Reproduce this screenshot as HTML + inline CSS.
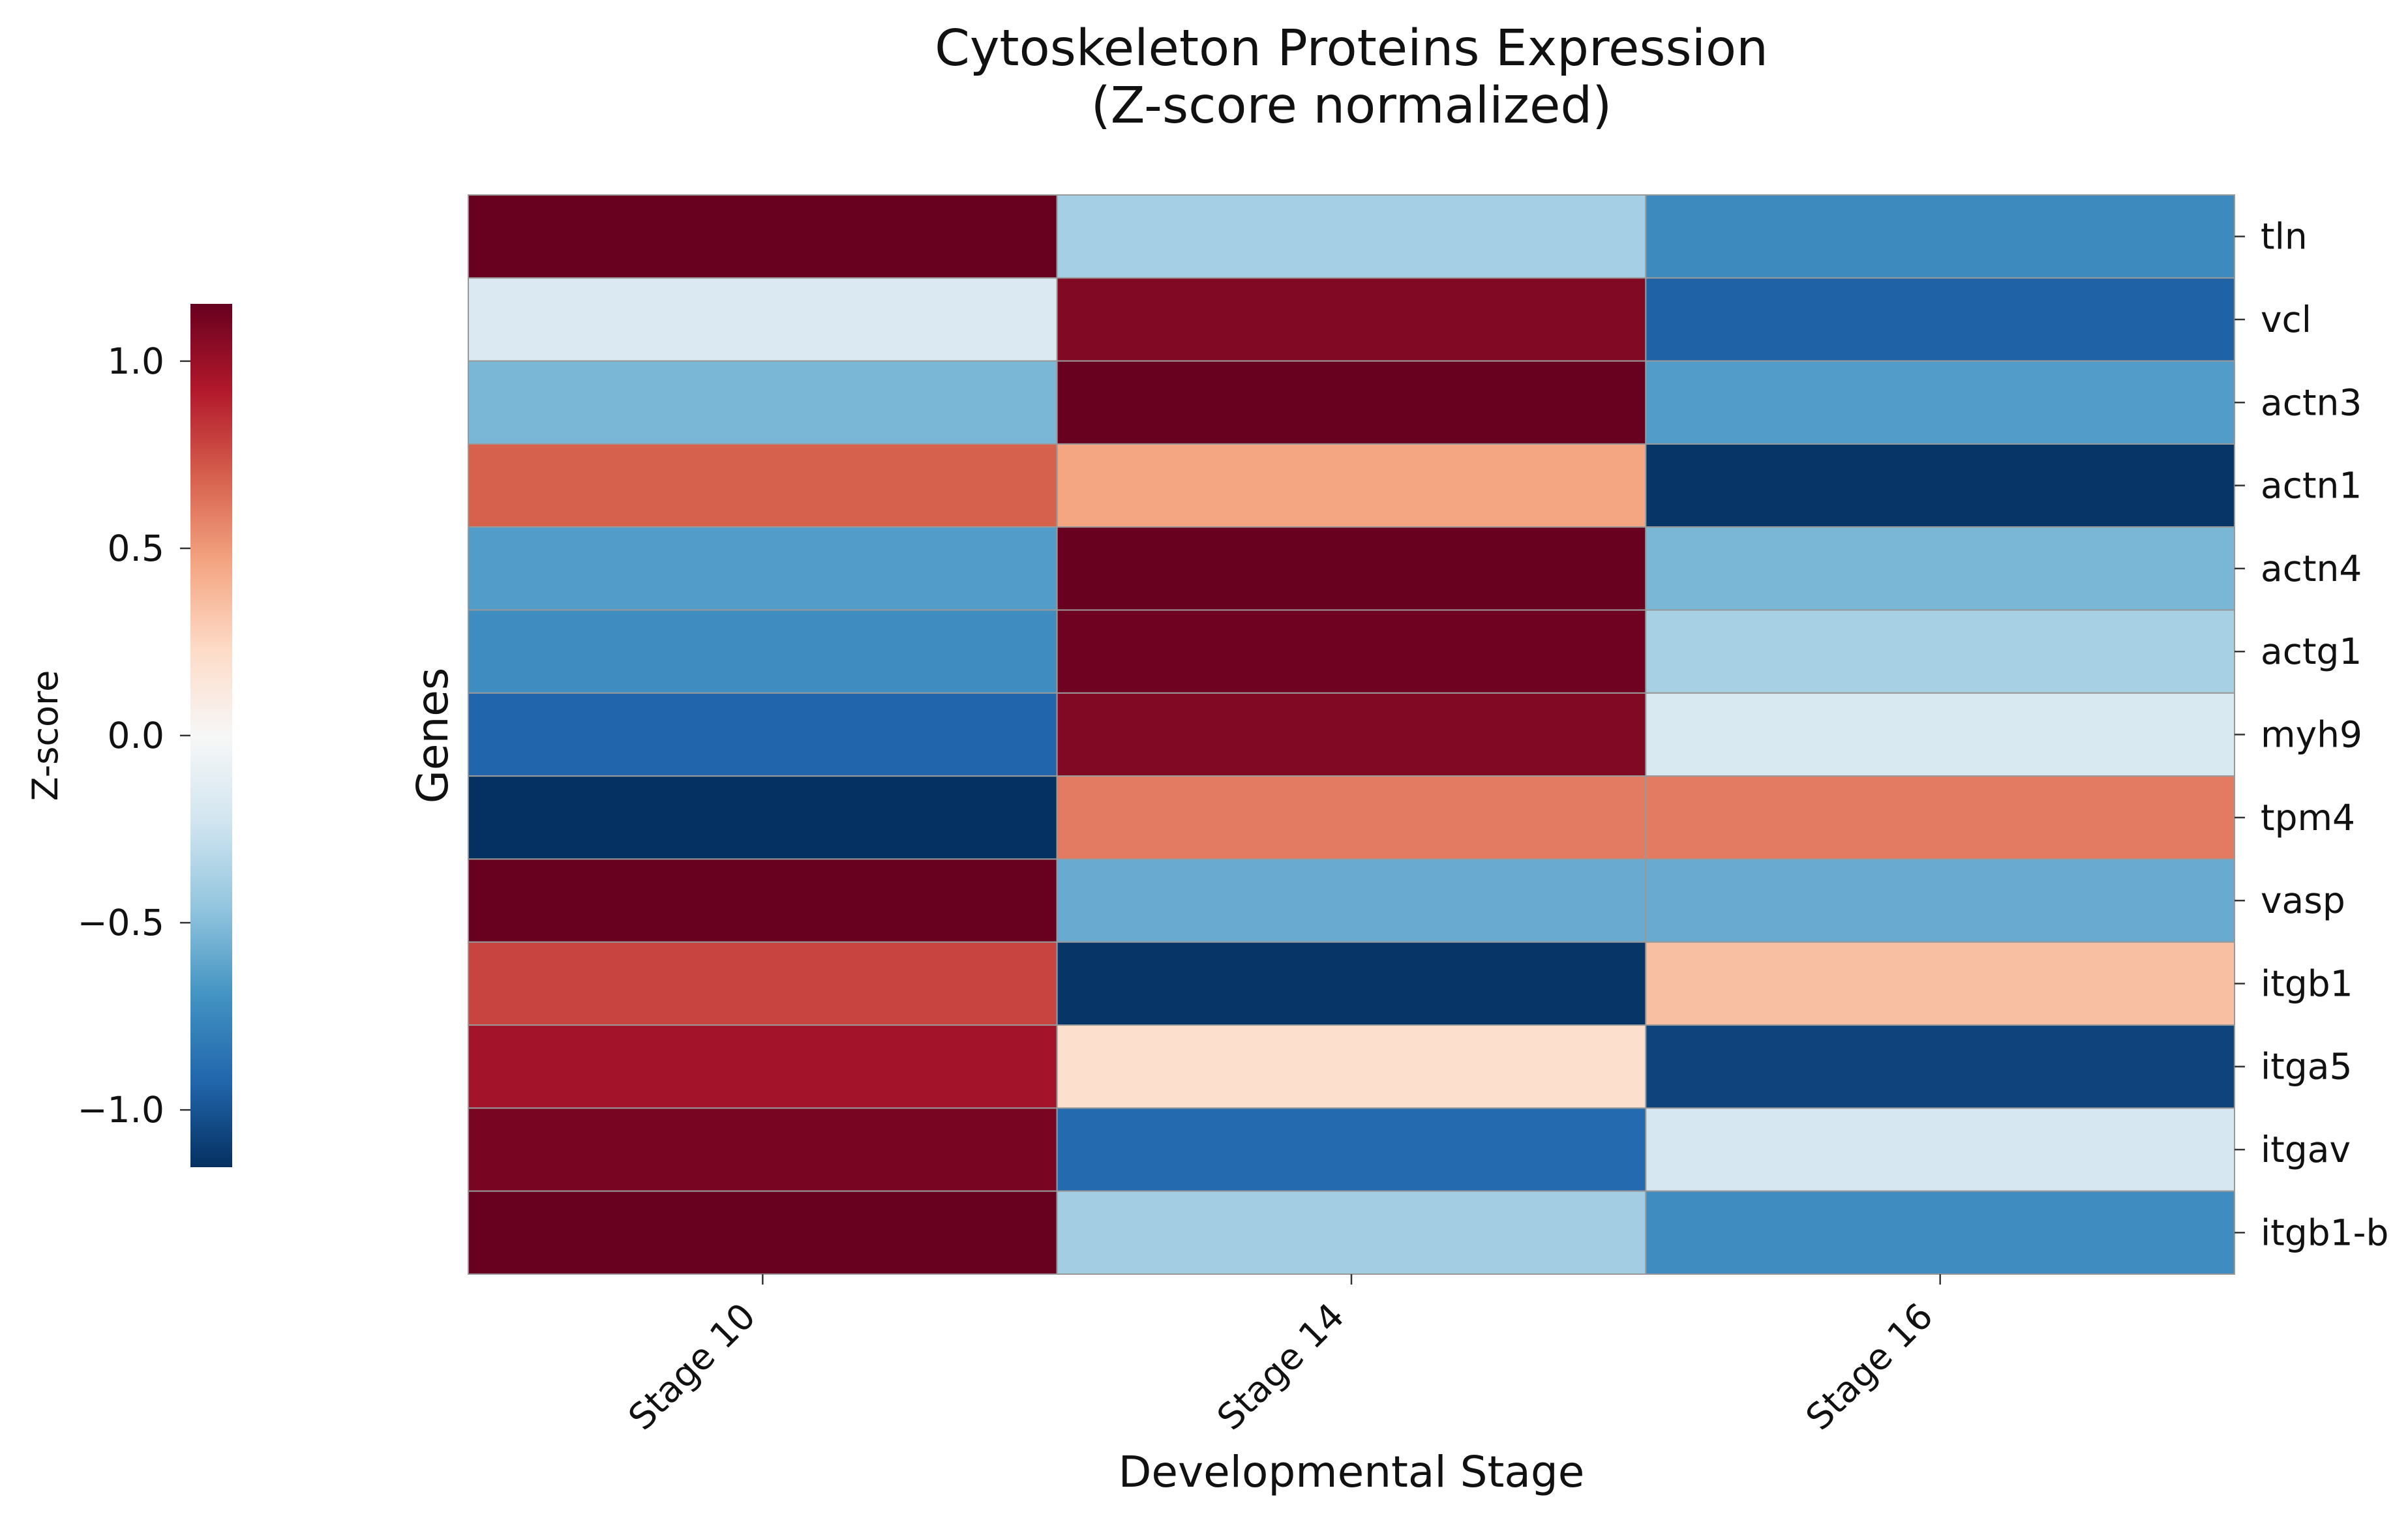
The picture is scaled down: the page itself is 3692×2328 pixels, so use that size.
<!DOCTYPE html>
<html><head><meta charset="utf-8">
<style>
html,body{margin:0;padding:0;background:#fff;}
svg{display:block;font-family:"DejaVu Sans","Liberation Sans",sans-serif;}
</style></head>
<body>
<svg id="chart" width="3692" height="2328" viewBox="0 0 3692 2328" xmlns="http://www.w3.org/2000/svg">
<rect width="3692" height="2328" fill="#fff"/>
<text x="2072" y="100" font-size="77" text-anchor="middle" fill="#111">Cytoskeleton Proteins Expression</text>
<text x="2072" y="188" font-size="77" text-anchor="middle" fill="#111">(Z-score normalized)</text>
<g id="cells"></g>
<g id="axes"></g>
<g id="cbar"></g>
<text x="2072" y="2280" font-size="66" text-anchor="middle" fill="#111">Developmental Stage</text>
<text transform="translate(686,1128) rotate(-90)" font-size="66" text-anchor="middle" fill="#111">Genes</text>
<text transform="translate(88,1128) rotate(-90)" font-size="54" text-anchor="middle" fill="#111">Z-score</text>
</svg>
<script>
const genes = ["tln","vcl","actn3","actn1","actn4","actg1","myh9","tpm4","vasp","itgb1","itga5","itgav","itgb1-b"];
const stages = ["Stage 10","Stage 14","Stage 16"];
const stage10 = [1.15,-0.17,-0.53,0.69,-0.65,-0.72,-0.92,-1.15,1.15,0.78,0.97,1.1,1.15];
const stage14 = [-0.39,1.07,1.15,0.46,1.15,1.13,1.07,0.6,-0.58,-1.13,0.2,-0.9,-0.4];
const stage16 = [-0.74,-0.94,-0.65,-1.13,-0.53,-0.38,-0.18,0.6,-0.58,0.35,-1.07,-0.2,-0.72];
const cbTicks = [1.0,0.5,0.0,-0.5,-1.0];
const cbTickLabels = ["1.0","0.5","0.0","\u22120.5","\u22121.0"];
const vmin = -1.153, vmax = 1.153;

const NS = "http://www.w3.org/2000/svg";
const L = 718, R = 3426, T = 299, B = 1954;
const cw = (R - L) / stages.length, rh = (B - T) / genes.length;
const xPos = i => L + i * cw;
const yPos = j => T + j * rh;
const anchors = ["#053061","#2166ac","#4393c3","#92c5de","#d1e5f0","#f7f7f7","#fddbc7","#f4a582","#d6604d","#b2182b","#67001f"];
function hex(h){return [1,3,5].map(i=>parseInt(h.substr(i,2),16));}
function color(v){
  let t = (v - vmin) / (vmax - vmin); t = Math.max(0, Math.min(1, t));
  const p = t * (anchors.length - 1), i = Math.min(Math.floor(p), anchors.length - 2), f = p - i;
  const a = hex(anchors[i]), b = hex(anchors[i+1]);
  return "rgb(" + a.map((c,k)=>Math.round(c + (b[k]-c)*f)).join(",") + ")";
}
function mk(tag, attrs, parent){const e=document.createElementNS(NS,tag);for(const k in attrs)e.setAttribute(k,attrs[k]);parent.appendChild(e);return e;}

const cells = document.getElementById("cells");
const series = [stage10, stage14, stage16];
series.forEach((vals, i) => {
  vals.forEach((v, j) => {
    const r = mk("rect", {x:xPos(i), y:yPos(j), width:cw, height:rh, fill:color(v), stroke:"#999", "stroke-width":2}, cells);
    
    
  });
});

const axes = document.getElementById("axes");
genes.forEach((g, j) => {
  const y = yPos(j) + rh / 2;
  mk("line", {x1:R, x2:R+16, y1:y, y2:y, stroke:"#333", "stroke-width":2.5}, axes);
  const t = mk("text", {x:R+40, y:y+19, "font-size":55, fill:"#111"}, axes);
  t.textContent = g;
  
  
});
stages.forEach((s, i) => {
  const x = xPos(i) + cw / 2;
  mk("line", {x1:x, x2:x, y1:B, y2:B+16, stroke:"#333", "stroke-width":2.5}, axes);
  const t = mk("text", {transform:"translate(" + (x-8) + "," + (B+68) + ") rotate(-45)", "font-size":55, "text-anchor":"end", fill:"#111"}, axes);
  t.textContent = s;
  
  
});

const cbar = document.getElementById("cbar");
const CL = 292, CR = 356, CT = 466, CB = 1790;
const cy = v => CB - (v - vmin) / (vmax - vmin) * (CB - CT);
const defs = mk("defs", {}, cbar);
const grad = mk("linearGradient", {id:"cg", x1:0, y1:1, x2:0, y2:0}, defs);
anchors.forEach((c, k) => mk("stop", {offset:(k/(anchors.length-1)), "stop-color":c}, grad));
const cr = mk("rect", {x:CL, y:CT, width:CR-CL, height:CB-CT, fill:"url(#cg)"}, cbar);


cbTicks.forEach((v, k) => {
  const y = cy(v);
  mk("line", {x1:CL-16, x2:CL, y1:y, y2:y, stroke:"#333", "stroke-width":2.5}, cbar);
  const t = mk("text", {x:CL-40, y:y+19, "font-size":55, "text-anchor":"end", fill:"#111"}, cbar);
  t.textContent = cbTickLabels[k];
  
  
});
</script>
</body></html>
